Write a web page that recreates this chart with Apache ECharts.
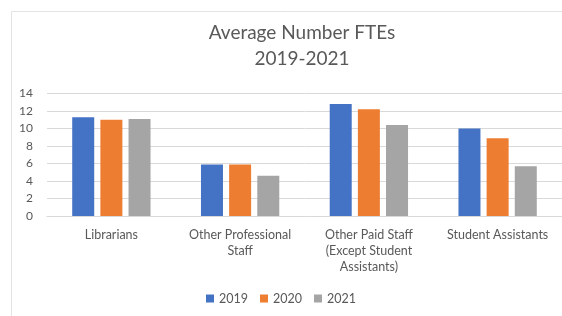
<!DOCTYPE html>
<html>
<head>
<meta charset="utf-8">
<script src="https://cdn.jsdelivr.net/npm/echarts@6/dist/echarts.min.js"></script>
<style>
  html, body { margin: 0; padding: 0; background: #fff; }
  #chart { width: 562px; height: 316px; }
</style>
</head>
<body>
<div id="chart"></div>
<script>
const categories = ['Librarians', 'Other Professional\nStaff', 'Other Paid Staff\n(Except Student\nAssistants)', 'Student Assistants']
const fte2019 = [11.3, 5.9, 12.8, 10.0]
const fte2020 = [11.0, 5.9, 12.2, 8.9]
const fte2021 = [11.1, 4.6, 10.4, 5.7]
const yTicks = { min: 0, max: 14, interval: 2 }

const chart = echarts.init(document.getElementById('chart'))
const font = 'Lato, "Open Sans", sans-serif'
const textColor = '#595959'

chart.setOption({
  animation: false,
  textStyle: { fontFamily: font },
  // light frame of the original chart area
  graphic: [{
    type: 'rect',
    shape: { x: 11.5, y: 11.5, width: 600, height: 400 },
    style: { fill: 'none', stroke: '#e3e3e3', lineWidth: 1 },
    silent: true
  }],
  title: {
    text: 'Average Number FTEs\n2019-2021',
    left: 297,
    top: 15,
    textAlign: 'center',
    textStyle: {
      fontFamily: font,
      fontSize: 19,
      fontWeight: 'normal',
      color: textColor,
      lineHeight: 26
    }
  },
  legend: {
    bottom: 6,
    left: 'center',
    itemWidth: 8,
    itemHeight: 8,
    itemGap: 12,
    icon: 'rect',
    textStyle: { fontFamily: font, fontSize: 12.5, color: textColor },
    data: ['2019', '2020', '2021']
  },
  grid: {
    left: 47,
    width: 520,
    top: 93.5,
    height: 122.5
  },
  xAxis: {
    type: 'category',
    data: categories,
    axisLine: { lineStyle: { color: '#d9d9d9' } },
    axisTick: { show: false },
    axisLabel: {
      interval: 0,
      margin: 11,
      fontFamily: font,
      fontSize: 12.5,
      color: textColor,
      lineHeight: 16
    }
  },
  yAxis: {
    type: 'value',
    min: yTicks.min,
    max: yTicks.max,
    interval: yTicks.interval,
    axisLine: { show: false },
    axisTick: { show: false },
    axisLabel: { margin: 14, fontFamily: font, fontSize: 12, color: textColor },
    splitLine: { lineStyle: { color: '#d9d9d9' } }
  },
  series: [
    { name: '2019', type: 'bar', data: fte2019, barWidth: 22, barGap: '28%', itemStyle: { color: '#4472C4' } },
    { name: '2020', type: 'bar', data: fte2020, barWidth: 22, barGap: '28%', itemStyle: { color: '#ED7D31' } },
    { name: '2021', type: 'bar', data: fte2021, barWidth: 22, barGap: '28%', itemStyle: { color: '#A5A5A5' } }
  ]
})
</script>
</body>
</html>
